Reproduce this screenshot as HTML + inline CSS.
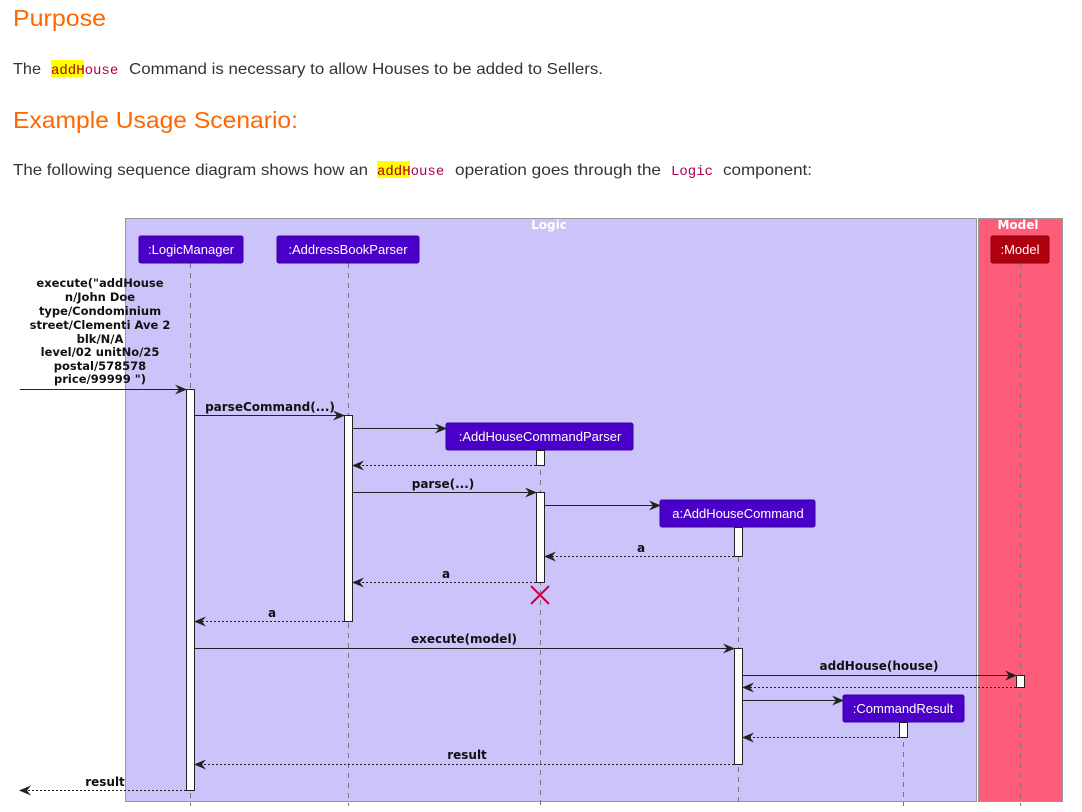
<!DOCTYPE html>
<html><head><meta charset="utf-8"><style>
html,body{margin:0;padding:0;background:#fff;width:1082px;height:812px;overflow:hidden}
svg{display:block}
</style></head><body>
<svg width="1082" height="812" xmlns="http://www.w3.org/2000/svg" font-family="Liberation Sans, DejaVu Sans, sans-serif">
<defs>
<marker id="ah" viewBox="0 0 12 10" refX="11" refY="5" markerWidth="12" markerHeight="10" markerUnits="userSpaceOnUse" orient="auto">
<path d="M0,0 L12,5 L0,10 L4,5 z" fill="#222"/>
</marker>
</defs>
<!-- text header -->
<text x="13" y="26" font-size="23" fill="#ff6600" textLength="93" lengthAdjust="spacingAndGlyphs">Purpose</text>
<rect x="51" y="60" width="33" height="17" fill="#ffff00"/>
<text x="13" y="74" font-size="16" fill="#333" textLength="28" lengthAdjust="spacingAndGlyphs">The</text>
<text x="51" y="74" font-size="14" font-family="Liberation Mono, DejaVu Sans Mono, monospace" fill="#b00050"><tspan fill="#b00000">addH</tspan>ouse</text>
<text x="129" y="74" font-size="16" fill="#333" textLength="474" lengthAdjust="spacingAndGlyphs">Command is necessary to allow Houses to be added to Sellers.</text>
<text x="13" y="128" font-size="23" fill="#ff6600" textLength="285" lengthAdjust="spacingAndGlyphs">Example Usage Scenario:</text>
<rect x="377" y="161" width="33" height="17" fill="#ffff00"/>
<text x="13" y="175" font-size="16" fill="#333" textLength="355" lengthAdjust="spacingAndGlyphs">The following sequence diagram shows how an</text>
<text x="377" y="175" font-size="14" font-family="Liberation Mono, DejaVu Sans Mono, monospace" fill="#b00050"><tspan fill="#b00000">addH</tspan>ouse</text>
<text x="455" y="175" font-size="16" fill="#333" textLength="206" lengthAdjust="spacingAndGlyphs">operation goes through the</text>
<text x="671" y="175" font-size="14" font-family="Liberation Mono, DejaVu Sans Mono, monospace" fill="#b00050">Logic</text>
<text x="723" y="175" font-size="16" fill="#333" textLength="89" lengthAdjust="spacingAndGlyphs">component:</text>

<!-- boxes -->
<rect x="125.5" y="218.5" width="851" height="583" fill="#cbc3f9" stroke="#999"/>
<rect x="978.5" y="218.5" width="84" height="583" fill="#ff5c79" stroke="#999"/>
<text x="549" y="229" font-size="12" font-weight="bold" fill="#fff" text-anchor="middle" font-family="DejaVu Sans, sans-serif">Logic</text>
<text x="1018" y="229" font-size="12" font-weight="bold" fill="#fff" text-anchor="middle" font-family="DejaVu Sans, sans-serif">Model</text>

<!-- lifelines -->
<g stroke="#777" stroke-dasharray="5,5" stroke-width="1">
<line x1="190.5" y1="263" x2="190.5" y2="806"/>
<line x1="348.5" y1="263" x2="348.5" y2="806"/>
<line x1="540.5" y1="450" x2="540.5" y2="806"/>
<line x1="738.5" y1="527" x2="738.5" y2="806"/>
<line x1="903.5" y1="722" x2="903.5" y2="806"/>
<line x1="1020.5" y1="263" x2="1020.5" y2="806"/>
</g>

<!-- participants -->
<g font-size="13" fill="#fff" text-anchor="middle">
<rect x="139" y="236" width="104" height="27" rx="2" fill="#4a00c9" stroke="#3a00a0"/>
<text x="191" y="254">:LogicManager</text>
<rect x="277" y="236" width="142" height="27" rx="2" fill="#4a00c9" stroke="#3a00a0"/>
<text x="348" y="254">:AddressBookParser</text>
<rect x="991" y="236" width="58" height="27" rx="2" fill="#b00010" stroke="#800"/>
<text x="1020" y="254">:Model</text>
<rect x="446" y="423" width="187" height="27" rx="2" fill="#4a00c9" stroke="#3a00a0"/>
<text x="540" y="441">:AddHouseCommandParser</text>
<rect x="660" y="500" width="155" height="27" rx="2" fill="#4a00c9" stroke="#3a00a0"/>
<text x="738" y="518">a:AddHouseCommand</text>
<rect x="843" y="695" width="121" height="27" rx="2" fill="#4a00c9" stroke="#3a00a0"/>
<text x="903" y="713">:CommandResult</text>
</g>

<!-- activations -->
<g fill="#fff" stroke="#222" stroke-width="1">
<rect x="186.5" y="389.5" width="8" height="401"/>
<rect x="344.5" y="415.5" width="8" height="206"/>
<rect x="536.5" y="450.5" width="8" height="15"/>
<rect x="536.5" y="492.5" width="8" height="90"/>
<rect x="734.5" y="527.5" width="8" height="29"/>
<rect x="734.5" y="648.5" width="8" height="116"/>
<rect x="1016.5" y="675.5" width="8" height="12"/>
<rect x="899.5" y="722.5" width="8" height="15"/>
</g>

<!-- messages -->
<g stroke="#222" stroke-width="1" fill="none" marker-end="url(#ah)">
<line x1="20" y1="389.5" x2="186" y2="389.5"/>
<line x1="195" y1="415.5" x2="344" y2="415.5"/>
<line x1="353" y1="428.5" x2="446" y2="428.5"/>
<line x1="536" y1="465.5" x2="353" y2="465.5" stroke-dasharray="2,2"/>
<line x1="353" y1="492.5" x2="536" y2="492.5"/>
<line x1="545" y1="505.5" x2="660" y2="505.5"/>
<line x1="734" y1="556.5" x2="545" y2="556.5" stroke-dasharray="2,2"/>
<line x1="536" y1="582.5" x2="353" y2="582.5" stroke-dasharray="2,2"/>
<line x1="344" y1="621.5" x2="195" y2="621.5" stroke-dasharray="2,2"/>
<line x1="195" y1="648.5" x2="734" y2="648.5"/>
<line x1="743" y1="675.5" x2="1016" y2="675.5"/>
<line x1="1016" y1="687.5" x2="743" y2="687.5" stroke-dasharray="2,2"/>
<line x1="743" y1="700.5" x2="843" y2="700.5"/>
<line x1="899" y1="737.5" x2="743" y2="737.5" stroke-dasharray="2,2"/>
<line x1="734" y1="764.5" x2="195" y2="764.5" stroke-dasharray="2,2"/>
<line x1="186" y1="790.5" x2="20" y2="790.5" stroke-dasharray="2,2"/>
</g>

<!-- destroy X -->
<g stroke="#d0004a" stroke-width="2">
<line x1="531" y1="586" x2="549" y2="604"/>
<line x1="549" y1="586" x2="531" y2="604"/>
</g>

<!-- labels -->
<g font-size="11.5" font-weight="bold" fill="#111" font-family="DejaVu Sans, Liberation Sans, sans-serif" text-anchor="middle">
<text x="100" y="287">execute("addHouse</text>
<text x="100" y="301">n/John Doe</text>
<text x="100" y="315">type/Condominium</text>
<text x="100" y="329">street/Clementi Ave 2</text>
<text x="100" y="343">blk/N/A</text>
<text x="100" y="356">level/02 unitNo/25</text>
<text x="100" y="370">postal/578578</text>
<text x="100" y="383">price/99999 ")</text>
</g>
<g font-size="12" font-weight="bold" fill="#111" font-family="DejaVu Sans, Liberation Sans, sans-serif" text-anchor="middle">
<text x="270" y="411">parseCommand(...)</text>
<text x="443" y="488">parse(...)</text>
<text x="641" y="552">a</text>
<text x="446" y="578">a</text>
<text x="272" y="617">a</text>
<text x="464" y="643">execute(model)</text>
<text x="879" y="670">addHouse(house)</text>
<text x="467" y="759">result</text>
<text x="105" y="786">result</text>
</g>
</svg>
</body></html>
